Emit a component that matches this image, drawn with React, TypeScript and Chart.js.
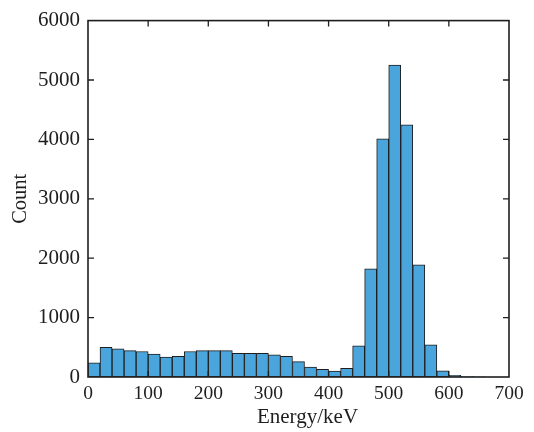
import React, { useEffect, useRef } from "react";
import { Chart, registerables } from "chart.js";

Chart.register(...registerables);

// Histogram bins: lower edge of each 20 keV bin and its count
const binStarts = [
  0, 20, 40, 60, 80, 100, 120, 140, 160, 180, 200, 220, 240, 260, 280, 300, 320,
  340, 360, 380, 400, 420, 440, 460, 480, 500, 520, 540, 560, 580, 600, 620, 640,
];
const counts = [
  240, 500, 475, 445, 430, 385, 335, 350, 430, 445, 445, 445, 400, 400, 400, 375,
  350, 260, 165, 130, 100, 145, 525, 1820, 4010, 5250, 4245, 1890, 540, 105, 28, 5, 2,
];
const binWidth = 20;
const xTicks = [0, 100, 200, 300, 400, 500, 600, 700];
const yTicks = [0, 1000, 2000, 3000, 4000, 5000, 6000];
const xTitle = "Energy/keV";
const yTitle = "Count";

const FONT = "'Liberation Serif', 'Times New Roman', serif";
const INK = "#1e1e1e";

// Frame around the plot with inward tick marks on all four sides, plus the x title
const framePlugin = {
  id: "frame",
  afterDatasetsDraw(chart: any) {
    const { ctx, chartArea } = chart;
    const { left, right, top, bottom } = chartArea;
    const xs = chart.scales.x;
    const ys = chart.scales.y;
    const len = 6;
    ctx.save();
    ctx.strokeStyle = INK;
    ctx.lineWidth = 1.6;
    ctx.strokeRect(left, top, right - left, bottom - top);
    ctx.lineWidth = 1.3;
    ctx.beginPath();
    xTicks.forEach((v) => {
      const px = xs.getPixelForValue(v);
      if (px <= left + 1 || px >= right - 1) return;
      ctx.moveTo(px, bottom);
      ctx.lineTo(px, bottom - len);
      ctx.moveTo(px, top);
      ctx.lineTo(px, top + len);
    });
    yTicks.forEach((v) => {
      const py = ys.getPixelForValue(v);
      if (py <= top + 1 || py >= bottom - 1) return;
      ctx.moveTo(left, py);
      ctx.lineTo(left + len, py);
      ctx.moveTo(right, py);
      ctx.lineTo(right - len, py);
    });
    ctx.stroke();

    ctx.fillStyle = INK;
    ctx.font = `21px ${FONT}`;
    ctx.textAlign = "center";
    ctx.textBaseline = "middle";
    ctx.fillText(xTitle, (left + right) / 2 + 9, bottom + 40);
    ctx.restore();
  },
};

export default function App() {
  const canvasRef = useRef<HTMLCanvasElement | null>(null);

  useEffect(() => {
    const canvas = canvasRef.current;
    if (!canvas) return;
    const chart = new Chart(canvas, {
      type: "bar",
      data: {
        datasets: [
          {
            data: binStarts.map((s, i) => ({ x: s + binWidth / 2, y: counts[i] })),
            backgroundColor: "#4aa5dc",
            borderColor: INK,
            borderWidth: 1,
            barPercentage: 1,
            categoryPercentage: 1,
            borderSkipped: false,
          },
        ],
      },
      options: {
        responsive: false,
        animation: false,
        layout: { padding: { top: 16, right: 25, bottom: 0, left: 0 } },
        plugins: {
          legend: { display: false },
          tooltip: { enabled: false },
        },
        scales: {
          x: {
            type: "linear",
            min: 0,
            max: 700,
            offset: false,
            afterFit: (s: any) => {
              s.height = 55;
            },
            afterBuildTicks: (s: any) => {
              s.ticks = xTicks.map((v) => ({ value: v }));
            },
            grid: { display: false, drawTicks: false, offset: false },
            border: { display: false },
            ticks: {
              color: INK,
              padding: 5,
              maxRotation: 0,
              font: { family: FONT, size: 19.5 },
              callback: (v: any) => String(v),
            },
          },
          y: {
            type: "linear",
            min: 0,
            max: 6000,
            afterFit: (s: any) => {
              s.width = 88;
            },
            afterBuildTicks: (s: any) => {
              s.ticks = yTicks.map((v) => ({ value: v }));
            },
            grid: { display: false, drawTicks: false },
            border: { display: false },
            ticks: {
              color: INK,
              padding: 8,
              font: { family: FONT, size: 21 },
              callback: (v: any) => String(v),
            },
            title: {
              display: true,
              text: yTitle,
              color: INK,
              font: { family: FONT, size: 20.5 },
              padding: { top: 8, bottom: 0 },
            },
          },
        },
      },
      plugins: [framePlugin],
    });
    return () => chart.destroy();
  }, []);

  return (
    <div style={{ position: "fixed", left: 0, top: 0, width: 534, height: 432, background: "#ffffff" }}>
      <canvas ref={canvasRef} width={534} height={432} style={{ display: "block" }} />
    </div>
  );
}
